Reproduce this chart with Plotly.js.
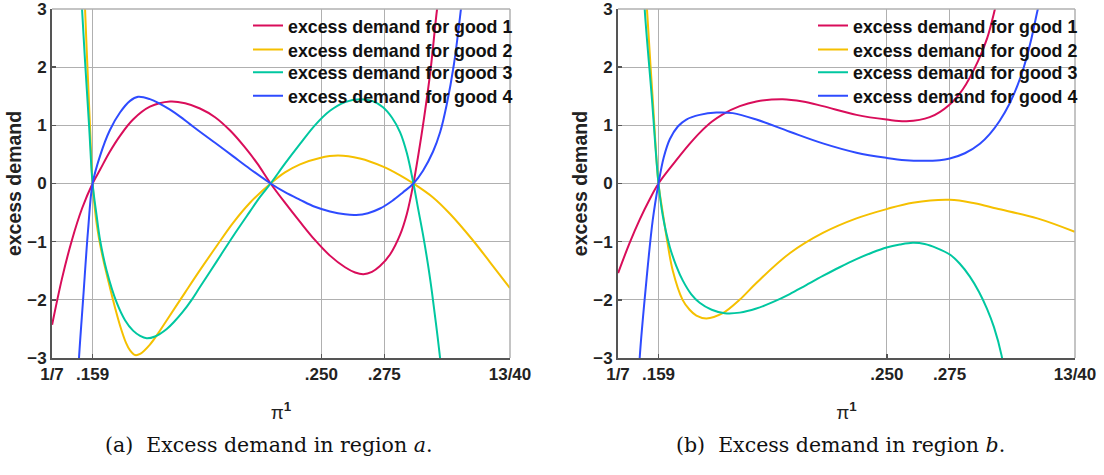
<!DOCTYPE html>
<html><head><meta charset="utf-8">
<script src="https://cdn.plot.ly/plotly-3.0.1.min.js"></script>
<style>html,body{margin:0;padding:0;background:#fff;}#chart{width:1104px;height:475px;}</style>
</head><body><div id="chart"></div>
<script>
// ---- tick labels / text ----
const xTickVals = [1/7, 0.159, 0.250, 0.275, 13/40];
const xTickText = ['1/7', '.159', '.250', '.275', '13/40'];
const yTickVals = [-3, -2, -1, 0, 1, 2, 3];
const seriesNames = ['excess demand for good 1', 'excess demand for good 2', 'excess demand for good 3', 'excess demand for good 4'];
const captions = ['(a)  Excess demand in region <i>a</i>.', '(b)  Excess demand in region <i>b</i>.'];

// ---- region a ----
const aGood1X = [0.1429, 0.1468, 0.1508, 0.1548, 0.159, 0.1620, 0.1659, 0.1699, 0.1751, 0.1818, 0.1898, 0.1958, 0.2017, 0.2077, 0.2137, 0.2196, 0.2244, 0.2298, 0.2355, 0.2415, 0.2474, 0.2534, 0.2594, 0.2634, 0.2667, 0.2701, 0.2733, 0.2773, 0.2813, 0.2840, 0.2866, 0.2885, 0.2908, 0.2934, 0.2960, 0.2972];
const aGood1Y = [-2.43, -1.64, -0.97, -0.43, 0, 0.24, 0.55, 0.82, 1.10, 1.32, 1.41, 1.38, 1.29, 1.14, 0.91, 0.62, 0.35, 0, -0.33, -0.66, -0.97, -1.24, -1.44, -1.53, -1.56, -1.52, -1.42, -1.22, -0.88, -0.52, 0, 0.48, 1.12, 1.95, 3.0, 3.35];
const aGood2X = [0.1558, 0.1560, 0.1570, 0.1580, 0.159, 0.1604, 0.1620, 0.1633, 0.1646, 0.1659, 0.1679, 0.1699, 0.1723, 0.1739, 0.1759, 0.1779, 0.1818, 0.1850, 0.1885, 0.1957, 0.2017, 0.2084, 0.2148, 0.2216, 0.2298, 0.2355, 0.2415, 0.2494, 0.2566, 0.2653, 0.2745, 0.2813, 0.2866, 0.2944, 0.3011, 0.3103, 0.3170, 0.3250];
const aGood2Y = [3.3, 3.0, 1.95, 0.95, 0, -0.62, -1.05, -1.32, -1.56, -1.79, -2.13, -2.44, -2.74, -2.87, -2.95, -2.93, -2.77, -2.58, -2.35, -1.88, -1.49, -1.07, -0.68, -0.33, 0, 0.19, 0.33, 0.44, 0.48, 0.43, 0.29, 0.14, 0, -0.24, -0.52, -0.98, -1.35, -1.80];
const aGood3X = [0.1543, 0.1548, 0.1560, 0.1576, 0.159, 0.1606, 0.1620, 0.1646, 0.1686, 0.1719, 0.1751, 0.1779, 0.1805, 0.1838, 0.1885, 0.1918, 0.1950, 0.1984, 0.2017, 0.2085, 0.2148, 0.2216, 0.2256, 0.2298, 0.2355, 0.2415, 0.2474, 0.2534, 0.2594, 0.2653, 0.2701, 0.2745, 0.2781, 0.2813, 0.2840, 0.2866, 0.2884, 0.2904, 0.2924, 0.2940, 0.2956, 0.2972, 0.2980];
const aGood3Y = [3.3, 3.0, 2.1, 1.0, 0, -0.55, -0.98, -1.50, -2.05, -2.35, -2.53, -2.62, -2.66, -2.63, -2.50, -2.36, -2.20, -2.00, -1.78, -1.33, -0.91, -0.48, -0.23, 0, 0.34, 0.68, 1.00, 1.25, 1.40, 1.45, 1.42, 1.31, 1.13, 0.88, 0.52, 0, -0.42, -0.88, -1.40, -1.88, -2.42, -3.0, -3.3];
const aGood4X = [0.1533, 0.1536, 0.1553, 0.1572, 0.159, 0.1620, 0.1659, 0.1699, 0.1739, 0.1771, 0.1818, 0.1858, 0.1898, 0.1938, 0.1977, 0.2017, 0.2077, 0.2148, 0.2216, 0.2298, 0.2355, 0.2415, 0.2474, 0.2534, 0.2594, 0.2638, 0.2685, 0.2733, 0.2781, 0.2825, 0.2866, 0.2904, 0.2944, 0.2972, 0.2998, 0.3027, 0.3055, 0.3063];
const aGood4Y = [-3.3, -3.0, -1.95, -0.80, 0, 0.48, 0.92, 1.22, 1.42, 1.49, 1.45, 1.37, 1.27, 1.15, 1.02, 0.89, 0.70, 0.47, 0.25, 0, -0.15, -0.28, -0.40, -0.48, -0.53, -0.54, -0.51, -0.43, -0.30, -0.15, 0, 0.22, 0.55, 0.88, 1.35, 2.05, 3.0, 3.3];

// ---- region b ----
const bGood1X = [0.1429, 0.1475, 0.1515, 0.1555, 0.159, 0.1661, 0.1714, 0.1754, 0.1802, 0.1846, 0.1914, 0.1980, 0.2085, 0.2165, 0.2245, 0.2379, 0.2499, 0.2578, 0.2671, 0.2751, 0.2803, 0.2863, 0.2900, 0.2931, 0.2942];
const bGood1Y = [-1.54, -1.02, -0.62, -0.27, 0, 0.40, 0.68, 0.87, 1.06, 1.19, 1.33, 1.41, 1.45, 1.41, 1.33, 1.18, 1.10, 1.07, 1.14, 1.36, 1.62, 2.10, 2.50, 3.0, 3.2];
const bGood2X = [0.1541, 0.1544, 0.1567, 0.159, 0.1607, 0.1622, 0.1647, 0.1686, 0.1714, 0.1741, 0.1781, 0.1846, 0.1913, 0.1980, 0.2113, 0.2245, 0.2379, 0.2499, 0.2603, 0.2751, 0.2850, 0.2937, 0.3100, 0.3249];
const bGood2Y = [3.3, 3.0, 1.45, 0, -0.50, -0.92, -1.50, -2.0, -2.17, -2.27, -2.32, -2.23, -2.0, -1.71, -1.20, -0.85, -0.60, -0.44, -0.33, -0.28, -0.34, -0.43, -0.60, -0.83];
const bGood3X = [0.1533, 0.1535, 0.1563, 0.159, 0.1607, 0.1635, 0.1661, 0.1687, 0.1720, 0.1754, 0.1802, 0.1854, 0.1914, 0.1980, 0.2045, 0.2113, 0.2177, 0.2245, 0.2312, 0.2379, 0.2440, 0.2499, 0.2552, 0.2604, 0.2651, 0.2699, 0.2751, 0.2791, 0.2831, 0.2867, 0.2899, 0.2927, 0.2957, 0.2970];
const bGood3Y = [3.3, 3.0, 1.5, 0, -0.55, -1.09, -1.42, -1.67, -1.90, -2.05, -2.17, -2.23, -2.22, -2.15, -2.04, -1.90, -1.75, -1.59, -1.44, -1.30, -1.19, -1.10, -1.05, -1.02, -1.04, -1.11, -1.22, -1.38, -1.60, -1.86, -2.15, -2.47, -2.95, -3.3];
const bGood4X = [0.1512, 0.1515, 0.1542, 0.1567, 0.159, 0.1611, 0.1635, 0.1667, 0.1701, 0.1754, 0.1821, 0.1886, 0.1980, 0.2113, 0.2245, 0.2379, 0.2499, 0.2575, 0.2643, 0.2711, 0.2751, 0.2811, 0.2871, 0.2910, 0.2950, 0.2990, 0.3022, 0.3046, 0.3074, 0.3102, 0.3114];
const bGood4Y = [-3.3, -3.0, -1.66, -0.63, 0, 0.45, 0.76, 0.98, 1.10, 1.18, 1.22, 1.21, 1.10, 0.89, 0.69, 0.53, 0.44, 0.40, 0.39, 0.40, 0.43, 0.52, 0.685, 0.85, 1.08, 1.38, 1.70, 2.0, 2.45, 3.0, 3.2];

const colors = ['#d90d5a', '#f5c000', '#00c7a0', '#2e4bff'];
const regionA = [[aGood1X, aGood1Y], [aGood2X, aGood2Y], [aGood3X, aGood3Y], [aGood4X, aGood4Y]];
const regionB = [[bGood1X, bGood1Y], [bGood2X, bGood2Y], [bGood3X, bGood3Y], [bGood4X, bGood4Y]];

const traces = [];
function legendId(n) { return n === 1 ? 'legend' : 'legend' + n; }
regionA.forEach((s, i) => traces.push({
  x: s[0], y: s[1], type: 'scatter', mode: 'lines', name: seriesNames[i],
  line: {color: colors[i], width: 2, shape: 'spline', smoothing: 1},
  xaxis: 'x', yaxis: 'y', legend: legendId(i + 1)
}));
regionB.forEach((s, i) => traces.push({
  x: s[0], y: s[1], type: 'scatter', mode: 'lines', name: seriesNames[i],
  line: {color: colors[i], width: 2, shape: 'spline', smoothing: 1},
  xaxis: 'x2', yaxis: 'y2', legend: legendId(i + 5)
}));

const sans = 'Liberation Sans, Arial, Helvetica, sans-serif';
const tickFont = {family: sans, size: 17, weight: 'bold', color: '#222'};
const gridColor = '#b0b0b0';
function xAxis(domain, anchor) {
  return {
    domain: domain, anchor: anchor, range: [1/7, 13/40],
    tickmode: 'array', tickvals: xTickVals, ticktext: xTickText,
    ticks: 'inside', ticklen: 4, tickcolor: '#555', tickwidth: 1.5,
    showgrid: true, gridcolor: gridColor, gridwidth: 1,
    showline: true, linecolor: '#555', linewidth: 2,
    zeroline: false, tickfont: tickFont, ticklabeloverflow: 'allow',
    title: {text: 'π<sup><b>1</b></sup>', font: {family: sans, size: 19, color: '#222'}, standoff: 22}
  };
}
function yAxis(domain, anchor) {
  return {
    domain: domain, anchor: anchor, range: [-3, 3],
    tickmode: 'array', tickvals: yTickVals,
    ticks: 'inside', ticklen: 4, tickcolor: '#555', tickwidth: 1.5,
    showgrid: true, gridcolor: gridColor, gridwidth: 1,
    showline: true, linecolor: '#555', linewidth: 2,
    zeroline: false, tickfont: tickFont, ticklabeloverflow: 'allow',
    title: {text: 'excess demand', font: {family: sans, size: 19.5, weight: 'bold', color: '#222'}, standoff: 0}
  };
}

const dom = {ax: [52/1104, 510/1104], bx: [618/1104, 1075/1104], y: [1 - 358/475, 1 - 9/475]};
function frame(xd) {
  return [
    {type: 'line', xref: 'paper', yref: 'paper', x0: xd[0], x1: xd[1], y0: dom.y[1], y1: dom.y[1], line: {color: gridColor, width: 1.5}, layer: 'above'},
    {type: 'line', xref: 'paper', yref: 'paper', x0: xd[1], x1: xd[1], y0: dom.y[0], y1: dom.y[1], line: {color: gridColor, width: 1.5}, layer: 'above'}
  ];
}

const rowY = [26, 50, 72.7, 96.2];
const legendRight = [518, 1083];
const capFont = {family: 'DejaVu Serif, Liberation Serif, serif', size: 20.5, color: '#111'};
const layout = {
  width: 1104, height: 475,
  margin: {l: 0, r: 0, t: 0, b: 0},
  paper_bgcolor: '#fff', plot_bgcolor: 'rgba(0,0,0,0)',
  showlegend: true,
  xaxis: xAxis(dom.ax, 'y'),
  yaxis: yAxis(dom.y, 'x'),
  xaxis2: xAxis(dom.bx, 'y2'),
  yaxis2: yAxis(dom.y, 'x2'),
  shapes: frame(dom.ax).concat(frame(dom.bx)),
  annotations: [
    {text: captions[0], xref: 'paper', yref: 'paper', x: 268/1104, y: 1 - 445/475, showarrow: false, font: capFont, xanchor: 'center', yanchor: 'middle'},
    {text: captions[1], xref: 'paper', yref: 'paper', x: 840/1104, y: 1 - 445/475, showarrow: false, font: capFont, xanchor: 'center', yanchor: 'middle'}
  ]
};
for (let p = 0; p < 2; p++) {
  for (let r = 0; r < 4; r++) {
    layout[legendId(p * 4 + r + 1)] = {
      font: {family: sans, size: 17.8, weight: 'bold', color: '#111'},
      bgcolor: 'rgba(0,0,0,0)', borderwidth: 0,
      xanchor: 'right', yanchor: 'middle',
      x: legendRight[p] / 1104, y: 1 - rowY[r] / 475,
      itemwidth: 30
    };
  }
}
Plotly.newPlot('chart', traces, layout, {displayModeBar: false, staticPlot: true});
</script></body></html>
